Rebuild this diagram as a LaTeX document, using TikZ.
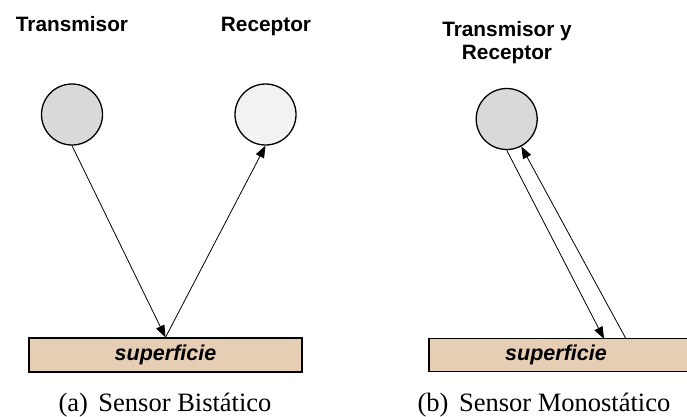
\documentclass[tikz,border=0pt]{standalone}
\usepackage{fontspec}
\setmainfont{Liberation Serif}
\newfontfamily\arialfont{Liberation Sans}
\usetikzlibrary{arrows.meta}
\definecolor{txgray}{RGB}{217,217,217}
\definecolor{rxgray}{RGB}{242,242,242}
\definecolor{surftan}{RGB}{230,206,180}
\tikzset{
  lbl/.style={font=\arialfont\bfseries\fontsize{20.8}{23.5}\selectfont, inner sep=0pt, anchor=base, align=center},
  ball/.style={circle, draw=black, line width=1.3pt, minimum size=61pt, inner sep=0pt},
  surf/.style={draw=black, line width=1.3pt, fill=surftan, inner sep=0pt,
    font=\arialfont\bfseries\itshape\fontsize{21.5}{24}\selectfont},
  ray/.style={line width=0.8pt, -{Triangle[length=12pt,width=9pt]}},
  capt/.style={font=\fontsize{26.5}{30}\selectfont, inner sep=0pt, anchor=base}
}
\begin{document}
\begin{tikzpicture}[x=1pt,y=-1pt]
\useasboundingbox (0,0) rectangle (687,416);
% (a) bistatic
\node[lbl] (ltx) at (72,31) {Transmisor};
\node[lbl] (lrx) at (266,31) {Receptor};
\node[ball, fill=txgray] (tx) at (72,114.5) {};
\node[ball, fill=rxgray] (rx) at (265.5,114.5) {};
\node[surf, minimum width=273pt, minimum height=34pt] (surfA) at (165.5,355) {superficie};
\draw[ray] (tx.south) -- (surfA.north);
\draw[ray] (surfA.north) -- (rx.south);
\node[capt] (captA) at (165,411) {(a)\hspace{0.4em}Sensor Bistático};
% (b) monostatic
\node[lbl] (ltr) at (507,59.5) {Transmisor y\\Receptor};
\node[ball, fill=txgray] (mon) at (506.7,119) {};
\node[surf, minimum width=259pt, minimum height=33pt, text width=259pt, align=center] (surfB) at (558.5,355.3) {\hspace*{-5pt}superficie};
\coordinate (b1) at (604,338.8);
\coordinate (b2) at (626,338.8);
\draw[ray] (mon.south) -- (b1);
\draw[ray] (b2) -- (mon.-62);
\node[capt] (captB) at (544,411) {(b)\hspace{0.4em}Sensor Monostático};
\end{tikzpicture}
\end{document}
